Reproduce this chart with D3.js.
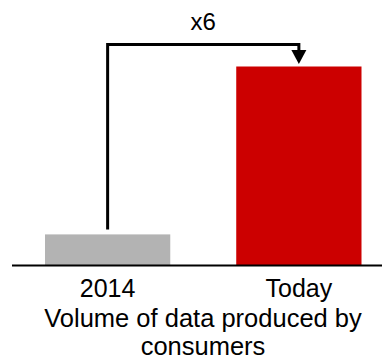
<!DOCTYPE html>
<html>
<head>
<meta charset="utf-8">
<script src="https://cdn.jsdelivr.net/npm/d3@7"></script>
<style>
  body { margin: 0; background: #fff; }
  text { font-family: "Liberation Sans", Arial, sans-serif; fill: #000; }
</style>
</head>
<body>
<div id="container"></div>
<script>
let categories = ["2014", "Today"];
let values = [1, 6.4];
let colors = ["#b3b3b3", "#cc0000"];
let multiplierLabel = "x6";
let titleLines = ["Volume of data produced by", "consumers"];

let w = 382;
let h = 361;
let baseY = 265.5;

let viz = d3.select("#container")
  .append("svg")
    .attr("width", w)
    .attr("height", h)
;

let xScale = d3.scaleBand()
  .domain(categories)
  .range([45, 361.5])
  .paddingInner(0.345)
  .paddingOuter(0);

let yScale = d3.scaleLinear()
  .domain([0, 6.4])
  .range([baseY, 66.5]);

// bars
viz.selectAll(".bar")
  .data(values)
  .enter()
  .append("rect")
    .attr("class", "bar")
    .attr("x", function(d, i){ return xScale(categories[i]); })
    .attr("y", function(d){ return yScale(d); })
    .attr("width", xScale.bandwidth())
    .attr("height", function(d){ return baseY - yScale(d); })
    .attr("fill", function(d, i){ return colors[i]; })
;

// baseline
viz.append("line")
  .attr("x1", 12).attr("x2", w)
  .attr("y1", baseY).attr("y2", baseY)
  .attr("stroke", "#000")
  .attr("stroke-width", 2);

// category labels
viz.selectAll(".cat")
  .data(categories)
  .enter()
  .append("text")
    .attr("class", "cat")
    .attr("x", function(d){ return xScale(d) + xScale.bandwidth()/2; })
    .attr("y", 296.5)
    .attr("text-anchor", "middle")
    .style("font-size", "25px")
    .text(function(d){ return d; })
;

// title under axis
viz.selectAll(".title")
  .data(titleLines)
  .enter()
  .append("text")
    .attr("class", "title")
    .attr("x", 203)
    .attr("y", function(d, i){ return 327 + i*28; })
    .attr("text-anchor", "middle")
    .style("font-size", "25.5px")
    .text(function(d){ return d; })
;

// bracket arrow from 2014 bar to Today bar
let x0 = xScale(categories[0]) + xScale.bandwidth()/2;
let x1 = xScale(categories[1]) + xScale.bandwidth()/2;
let topY = 44.5;
let tipY = yScale(values[1]) - 2.5;

viz.append("path")
  .attr("d", d3.line()([[x0, yScale(values[0]) - 5], [x0, topY], [x1, topY], [x1, tipY - 12]]))
  .attr("fill", "none")
  .attr("stroke", "#000")
  .attr("stroke-width", 3)
  .attr("stroke-linejoin", "miter");

viz.append("path")
  .attr("d", d3.line()([[x1 - 7.5, tipY - 14], [x1 + 7.5, tipY - 14], [x1, tipY]]) + "Z")
  .attr("fill", "#000");

viz.append("text")
  .attr("x", (x0 + x1)/2)
  .attr("y", 29.5)
  .attr("text-anchor", "middle")
  .style("font-size", "24px")
  .text(multiplierLabel);
</script>
</body>
</html>
